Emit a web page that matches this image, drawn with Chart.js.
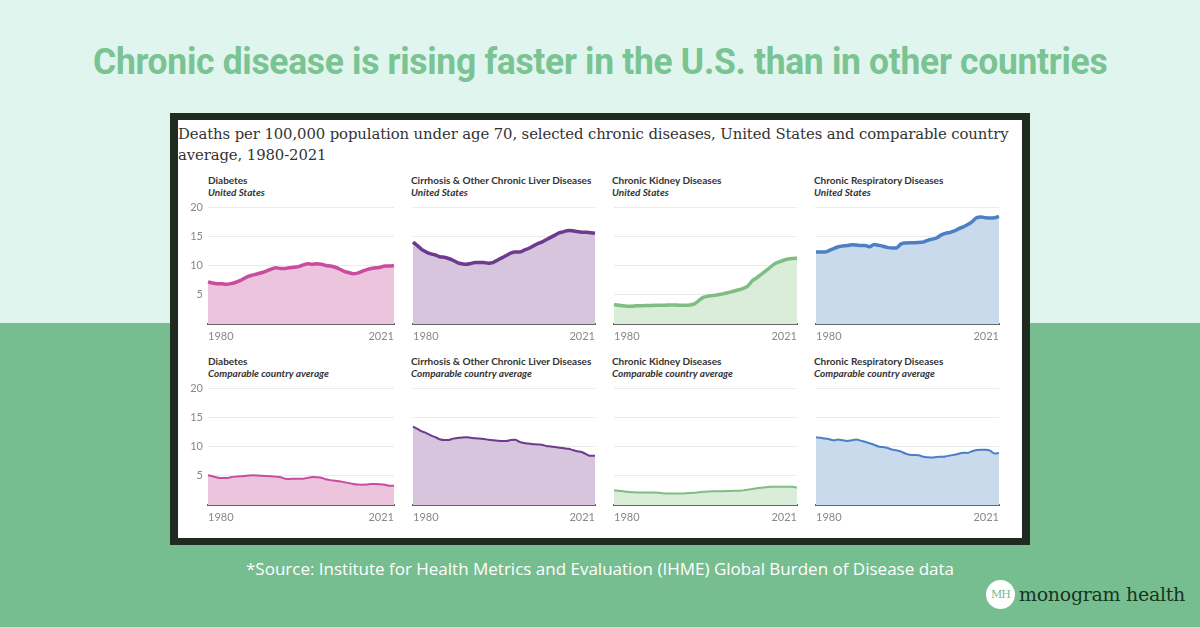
<!DOCTYPE html>
<html>
<head>
<meta charset="utf-8">
<script src="https://cdn.jsdelivr.net/npm/chart.js@4.4.0/dist/chart.umd.min.js"></script>
<style>
  html, body { margin: 0; padding: 0; }
  body {
    width: 1200px; height: 627px; position: relative; overflow: hidden;
    background: linear-gradient(to bottom, #e0f5ee 0, #e0f5ee 323px, #76be8f 323px, #76be8f 100%);
    font-family: "Lato", "Open Sans", sans-serif;
  }
  #title {
    position: absolute; left: 0; top: 40px; width: 1200px; text-align: center;
  }
  #title span {
    display: inline-block; transform-origin: center center;
    font-family: "Roboto", sans-serif; font-weight: bold; font-size: 36px; line-height: 44px;
    color: #7ac392; white-space: nowrap; letter-spacing: -0.3px;
  }
  #frame {
    position: absolute; left: 170px; top: 113px; width: 860px; height: 432px;
    background: #1f2b1f;
  }
  #card {
    position: absolute; left: 178px; top: 120px; width: 844px; height: 418px;
    background: #fff;
  }
  #subtitle {
    position: absolute; left: 178px; top: 124px; width: 844px;
    font-family: "DejaVu Serif", serif; font-size: 14.85px; line-height: 21px; color: #333;
    letter-spacing: -0.1px;
  }
  .ptitle {
    position: absolute; font-size: 10px; line-height: 12px; color: #333; font-weight: bold;
    white-space: nowrap;
  }
  .ptitle i { font-style: italic; }
  canvas { position: absolute; }
  #source {
    position: absolute; left: 0; top: 557px; width: 1200px; text-align: center;
    font-family: "Open Sans", sans-serif; font-size: 17px; color: #fff;
  }
  #logo {
    position: absolute; left: 986px; top: 580px; height: 30px;
  }
  #logo .mark {
    position: absolute; left: 0; top: 0; width: 29px; height: 29px; border-radius: 50%;
    background: #fff; color: #6fb98a; font-family: "DejaVu Serif", serif; font-size: 11px;
    line-height: 29px; text-align: center; letter-spacing: -1px;
  }
  #logo .name {
    position: absolute; left: 33px; top: 0; white-space: nowrap;
    font-family: "DejaVu Serif", serif; font-size: 19px; line-height: 28px; color: #17351f;
    letter-spacing: -0.3px;
  }
</style>
</head>
<body>
<div id="title"><span>Chronic disease is rising faster in the U.S. than in other countries</span></div>
<div id="frame"></div>
<div id="card"></div>
<div id="subtitle">Deaths per 100,000 population under age 70, selected chronic diseases, United States and comparable country average, 1980-2021</div>
<div id="panels"></div>
<div id="source">*Source: Institute for Health Metrics and Evaluation (IHME) Global Burden of Disease data</div>
<div id="logo"><div class="mark">MH</div><div class="name">monogram health</div></div>

<script>
// Data (deaths per 100,000, under age 70)
var years = [];
for (var y = 1980; y <= 2021; y++) years.push(String(y));

var yTicks = [5, 10, 15, 20];

var usDiabetes = [7.2, 7.0, 6.9, 6.9, 6.8, 6.9, 7.1, 7.4, 7.8, 8.2, 8.4, 8.6, 8.8, 9.1, 9.4, 9.6, 9.5, 9.5, 9.6, 9.7,
  9.8, 10.1, 10.3, 10.2, 10.3, 10.2, 10.0, 9.9, 9.7, 9.4, 9.0, 8.8, 8.6, 8.7, 9.0, 9.3, 9.5, 9.6, 9.7, 9.9, 9.9, 10.0];
var usLiver = [14.0, 13.4, 12.7, 12.3, 12.0, 11.8, 11.5, 11.4, 11.2, 10.9, 10.5, 10.3, 10.2, 10.35, 10.5, 10.5, 10.5, 10.4, 10.5, 10.9,
  11.3, 11.7, 12.1, 12.3, 12.3, 12.6, 12.9, 13.3, 13.7, 14.0, 14.4, 14.8, 15.2, 15.6, 15.8, 16.0, 15.95, 15.8, 15.7, 15.7, 15.6, 15.5];
var usKidney = [3.35, 3.2, 3.1, 3.05, 3.05, 3.1, 3.1, 3.15, 3.15, 3.2, 3.2, 3.2, 3.25, 3.25, 3.25, 3.2, 3.2, 3.25, 3.45, 4.0,
  4.55, 4.75, 4.85, 4.95, 5.1, 5.25, 5.45, 5.65, 5.85, 6.1, 6.5, 7.4, 7.9, 8.5, 9.1, 9.7, 10.3, 10.6, 10.9, 11.1, 11.2, 11.25];
var usResp = [12.3, 12.3, 12.3, 12.6, 12.9, 13.2, 13.35, 13.4, 13.55, 13.5, 13.4, 13.4, 13.2, 13.6, 13.45, 13.3, 13.1, 13.0, 13.0, 13.65,
  13.85, 13.9, 13.9, 13.95, 14.0, 14.3, 14.5, 14.7, 15.2, 15.5, 15.65, 15.9, 16.3, 16.6, 17.0, 17.5, 18.2, 18.3, 18.15, 18.1, 18.15, 18.4];

var ccDiabetes = [5.1, 4.9, 4.7, 4.6, 4.6, 4.75, 4.85, 4.9, 4.95, 5.05, 5.07, 5.03, 4.98, 4.95, 4.9, 4.85, 4.75, 4.5, 4.45, 4.5,
  4.5, 4.5, 4.65, 4.8, 4.75, 4.65, 4.4, 4.25, 4.15, 4.05, 3.9, 3.75, 3.6, 3.5, 3.48, 3.5, 3.58, 3.58, 3.55, 3.45, 3.3, 3.3];
var ccLiver = [13.4, 13.0, 12.6, 12.3, 11.9, 11.6, 11.25, 11.1, 11.1, 11.35, 11.45, 11.55, 11.6, 11.5, 11.4, 11.35, 11.3, 11.15, 11.05, 11.0,
  10.95, 10.95, 11.1, 11.15, 10.8, 10.6, 10.5, 10.4, 10.35, 10.3, 10.1, 10.0, 9.9, 9.8, 9.7, 9.6, 9.4, 9.2, 9.05, 8.7, 8.4, 8.4];
var ccKidney = [2.5, 2.45, 2.35, 2.25, 2.18, 2.15, 2.12, 2.12, 2.15, 2.15, 2.1, 2.0, 1.95, 1.95, 1.95, 1.95, 2.0, 2.05, 2.1, 2.18,
  2.25, 2.3, 2.35, 2.35, 2.35, 2.38, 2.4, 2.42, 2.45, 2.5, 2.6, 2.75, 2.85, 2.95, 3.05, 3.1, 3.12, 3.14, 3.14, 3.14, 3.1, 3.0];
var ccResp = [11.57, 11.5, 11.35, 11.25, 11.05, 11.2, 11.05, 10.95, 11.05, 11.2, 11.0, 10.8, 10.55, 10.3, 10.0, 9.9, 9.75, 9.5, 9.35, 9.15,
  8.8, 8.6, 8.55, 8.5, 8.25, 8.15, 8.1, 8.2, 8.25, 8.3, 8.45, 8.6, 8.75, 8.95, 8.9, 9.2, 9.4, 9.46, 9.46, 9.3, 8.8, 8.9];

var diseases = ["Diabetes", "Cirrhosis & Other Chronic Liver Diseases", "Chronic Kidney Diseases", "Chronic Respiratory Diseases"];
var regions = ["United States", "Comparable country average"];
var lineColors = ["#c94d9f", "#6d3a8e", "#80bd82", "#4c7fc3"];
var fillColors = ["#ecc4de", "#d6c5dd", "#d9edd8", "#c9daec"];

// squeeze the headline to the width it has in the original
var head = document.querySelector("#title span");
head.style.transform = "scaleX(" + (1014 / head.offsetWidth) + ")";

// Layout of the 4x2 grid (plot area edges)
var colLeft = [208, 411, 612, 814];
var colRight = [396, 597, 799, 1001];
var rowTop = [207, 388];
var plotH = 117;
var yAxisW = 30, pad = 4, xAxisH = 22;

var rows = [[usDiabetes, usLiver, usKidney, usResp], [ccDiabetes, ccLiver, ccKidney, ccResp]];

var panels = document.getElementById("panels");

rows.forEach(function (rowData, r) {
  rowData.forEach(function (values, c) {
    // panel title
    var t = document.createElement("div");
    t.className = "ptitle";
    t.style.left = colLeft[c] + "px";
    t.style.top = (rowTop[r] - 33) + "px";
    t.innerHTML = diseases[c] + "<br><i>" + regions[r] + "</i>";
    panels.appendChild(t);

    var yw = c === 0 ? yAxisW : 0;
    var w = pad + yw + (colRight[c] - colLeft[c]) + pad;
    var h = pad + plotH + xAxisH;
    var cv = document.createElement("canvas");
    cv.width = w; cv.height = h;
    cv.style.left = (colLeft[c] - yw - pad) + "px";
    cv.style.top = (rowTop[r] - pad) + "px";
    panels.appendChild(cv);

    new Chart(cv.getContext("2d"), {
      type: "line",
      data: {
        labels: years,
        datasets: [{
          data: values,
          borderColor: lineColors[c],
          backgroundColor: fillColors[c],
          borderWidth: r === 0 ? 3.5 : 2,
          fill: "origin",
          pointRadius: 0,
          tension: 0.3,
          cubicInterpolationMode: "monotone"
        }]
      },
      options: {
        responsive: false,
        animation: false,
        layout: { autoPadding: false, padding: { left: pad, right: pad, top: pad, bottom: 0 } },
        plugins: { legend: { display: false }, tooltip: { enabled: false } },
        scales: {
          x: {
            grid: { display: false, drawTicks: false },
            border: { display: true, color: "#666", width: 2 },
            afterFit: function (scale) { scale.height = xAxisH; },
            ticks: {
              autoSkip: false, maxRotation: 0, align: "inner", padding: 6,
              color: "#888", font: { family: "Lato", size: 11 },
              callback: function (val, i, ticks) {
                return (i === 0 || i === ticks.length - 1) ? this.getLabelForValue(val) : null;
              }
            }
          },
          y: {
            min: 0, max: 20,
            afterFit: function (scale) {
              scale.width = yw;
              // keep every panel's plot the same height
              scale.paddingTop = 0;
              scale.paddingBottom = 0;
            },
            border: { display: false },
            grid: { color: "#ebebeb", lineWidth: 1, drawTicks: false },
            afterBuildTicks: function (scale) {
              scale.ticks = [0].concat(yTicks).map(function (v) { return { value: v }; });
            },
            ticks: {
              display: c === 0, padding: 5, color: "#888",
              font: { family: "Lato", size: 11 },
              callback: function (v) { return v === 0 ? "" : v; }
            }
          }
        }
      }
    });
  });
});
</script>
</body>
</html>
